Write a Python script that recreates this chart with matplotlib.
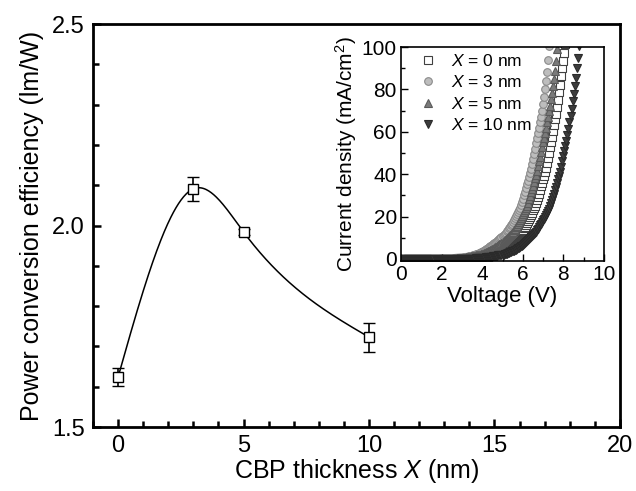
import numpy as np
import matplotlib
matplotlib.use('Agg')
import matplotlib.pyplot as plt
from matplotlib.ticker import MultipleLocator

plt.rcParams['font.family'] = ['Liberation Sans', 'DejaVu Sans']
plt.rcParams['mathtext.fontset'] = 'custom'
plt.rcParams['mathtext.rm'] = 'Liberation Sans'
plt.rcParams['mathtext.it'] = 'Liberation Sans:italic'

# Main plot: power efficiency vs CBP thickness
thickness = [0, 3, 5, 10]
efficiency = [1.624, 2.091, 1.984, 1.723]
eff_err = [0.022, 0.030, 0.008, 0.036]

# Inset: J-V curves, voltage sweep step of 0.05 V starting at 0 V
volt_step = 0.05
j_0nm = [0, 0, 0, 0, 0, 0, 0, 0, 0, 0,
         0, 0, 0, 0, 0, 0, 0, 0, 0, 0,
         0, 0, 0, 0, 0, 0, 0, 0, 0, 0,
         0, 0, 0, 0, 0, 0, 0, 0, 0, 0,
         0, 0, 0, 0, 0, 0, 0, 0, 0, 0,
         0.0, 0.05, 0.1, 0.1, 0.15, 0.15, 0.2, 0.2, 0.25, 0.25,
         0.3, 0.35, 0.4, 0.45, 0.5, 0.55, 0.6, 0.7, 0.8, 0.85,
         0.9, 1.0, 1.1, 1.2, 1.3, 1.4, 1.5, 1.55, 1.6, 1.7,
         1.85, 1.95, 2.1, 2.25, 2.4, 2.55, 2.7, 2.9, 3.1, 3.3,
         3.5, 3.7, 3.9, 4.1, 4.4, 4.7, 5.0, 5.2, 5.4, 5.6,
         5.8, 6.1, 6.4, 6.7, 7.0, 7.4, 7.8, 8.2, 8.6, 9.0,
         9.4, 9.8, 10.2, 10.6, 11.0, 11.4, 11.8, 12.2, 12.7, 13.2,
         13.8, 14.5, 15.2, 16.0, 16.8, 17.7, 18.6, 19.6, 20.7, 21.8,
         22.9, 24.0, 25.0, 26.3, 27.7, 29.2, 30.8, 32.5, 34.2, 35.9,
         37.6, 39.2, 40.8, 43.0, 45.4, 47.8, 50.2, 52.6, 55.0, 57.7,
         60.4, 63.1, 65.8, 68.6, 71.5, 75.0, 78.6, 82.3, 86.2, 90.0,
         93.5, 97.4, 101.5, 106.0]
j_3nm = [0, 0, 0, 0, 0, 0, 0, 0, 0, 0,
         0, 0, 0, 0, 0, 0, 0, 0, 0, 0,
         0, 0, 0, 0, 0, 0, 0, 0, 0, 0,
         0, 0, 0, 0, 0, 0, 0, 0, 0, 0,
         0, 0, 0, 0, 0, 0, 0, 0, 0, 0,
         0.1, 0.15, 0.2, 0.2, 0.2, 0.25, 0.3, 0.35, 0.4, 0.45,
         0.5, 0.6, 0.7, 0.8, 0.9, 1.0, 1.1, 1.2, 1.3, 1.45,
         1.6, 1.7, 1.8, 1.95, 2.1, 2.3, 2.5, 2.7, 2.9, 3.15,
         3.4, 3.65, 3.9, 4.2, 4.5, 4.8, 5.1, 5.5, 5.9, 6.25,
         6.6, 6.95, 7.3, 7.7, 8.1, 8.5, 8.9, 9.35, 9.8, 10.3,
         10.8, 11.3, 11.8, 12.4, 13.0, 13.7, 14.4, 15.1, 15.9, 16.7,
         17.5, 18.3, 19.2, 20.1, 21.0, 22.0, 23.0, 24.2, 25.5, 27.0,
         28.5, 30.1, 31.8, 33.5, 35.2, 36.9, 38.7, 40.6, 42.6, 44.8,
         47.0, 49.5, 52.0, 54.5, 57.0, 59.5, 62.0, 64.5, 67.0, 70.0,
         73.0, 76.5, 80.0, 84.0, 88.0, 94.0, 100.5, 106.0]
j_5nm = [0, 0, 0, 0, 0, 0, 0, 0, 0, 0,
         0, 0, 0, 0, 0, 0, 0, 0, 0, 0,
         0, 0, 0, 0, 0, 0, 0, 0, 0, 0,
         0, 0, 0, 0, 0, 0, 0, 0, 0, 0,
         0, 0, 0, 0, 0, 0, 0, 0, 0, 0,
         0.05, 0.1, 0.1, 0.15, 0.15, 0.2, 0.25, 0.3, 0.35, 0.4,
         0.45, 0.5, 0.55, 0.6, 0.7, 0.8, 0.9, 1.0, 1.1, 1.2,
         1.3, 1.4, 1.5, 1.6, 1.7, 1.8, 1.85, 1.9, 2.0, 2.15,
         2.3, 2.5, 2.7, 2.9, 3.1, 3.3, 3.5, 3.75, 4.0, 4.25,
         4.5, 4.8, 5.1, 5.4, 5.75, 6.1, 6.45, 6.8, 7.2, 7.6,
         8.0, 8.4, 8.8, 9.3, 9.8, 10.3, 10.8, 11.3, 11.8, 12.3,
         12.9, 13.6, 14.3, 15.0, 15.7, 16.5, 17.3, 18.2, 19.1, 20.1,
         21.1, 22.1, 23.1, 24.1, 25.0, 26.6, 28.2, 29.8, 31.4, 33.0,
         34.6, 36.3, 38.0, 39.7, 41.5, 43.7, 46.0, 48.3, 50.6, 52.9,
         55.0, 57.0, 59.3, 62.0, 64.6, 67.2, 69.8, 72.2, 75.3, 78.5,
         81.7, 85.0, 88.5, 93.5, 99.0, 104.5]
j_10nm = [0, 0, 0, 0, 0, 0, 0, 0, 0, 0,
          0, 0, 0, 0, 0, 0, 0, 0, 0, 0,
          0, 0, 0, 0, 0, 0, 0, 0, 0, 0,
          0, 0, 0, 0, 0, 0, 0, 0, 0, 0,
          0, 0, 0, 0, 0, 0, 0, 0, 0, 0,
          0, 0, 0, 0, 0, 0, 0, 0, 0, 0,
          0, 0, 0, 0, 0, 0, 0, 0, 0, 0,
          0.05, 0.1, 0.1, 0.15, 0.2, 0.2, 0.25, 0.3, 0.35, 0.4,
          0.45, 0.5, 0.55, 0.6, 0.7, 0.75, 0.8, 0.9, 1.0, 1.05,
          1.1, 1.2, 1.3, 1.4, 1.5, 1.6, 1.7, 1.75, 1.8, 1.85,
          1.9, 2.0, 2.15, 2.3, 2.5, 2.7, 2.9, 3.1, 3.3, 3.5,
          3.7, 3.9, 4.1, 4.4, 4.7, 5.0, 5.3, 5.7, 6.0, 6.3,
          6.7, 7.1, 7.5, 7.9, 8.3, 8.7, 9.2, 9.7, 10.2, 10.7,
          11.2, 11.7, 12.2, 12.9, 13.6, 14.3, 15.0, 15.8, 16.6, 17.4,
          18.2, 19.0, 19.9, 20.8, 21.7, 22.7, 23.7, 24.8, 26.2, 27.7,
          29.2, 30.8, 32.4, 34.1, 35.8, 37.5, 39.2, 41.2, 43.6, 46.0,
          48.4, 50.8, 53.2, 55.6, 58.4, 61.4, 64.4, 67.6, 70.8, 74.3,
          77.8, 81.5, 85.4, 90.0, 95.0, 100.5, 106.0]
series_labels = ['0', '3', '5', '10']


def natural_spline(xk, yk, xs):
    # plain natural cubic spline, used only for the guide line
    xk = np.asarray(xk, float)
    yk = np.asarray(yk, float)
    n = len(xk)
    h = np.diff(xk)
    A = np.zeros((n, n))
    b = np.zeros(n)
    A[0, 0] = 1
    A[-1, -1] = 1
    for i in range(1, n - 1):
        A[i, i - 1] = h[i - 1]
        A[i, i] = 2 * (h[i - 1] + h[i])
        A[i, i + 1] = h[i]
        b[i] = 3 * ((yk[i + 1] - yk[i]) / h[i] - (yk[i] - yk[i - 1]) / h[i - 1])
    c = np.linalg.solve(A, b)
    ys = np.zeros_like(xs)
    for i in range(n - 1):
        m = (xs >= xk[i]) & (xs <= xk[i + 1])
        bb = (yk[i + 1] - yk[i]) / h[i] - h[i] * (2 * c[i] + c[i + 1]) / 3
        d = (c[i + 1] - c[i]) / (3 * h[i])
        t = xs[m] - xk[i]
        ys[m] = yk[i] + bb * t + c[i] * t ** 2 + d * t ** 3
    return ys


fig = plt.figure(figsize=(6.36, 4.91), dpi=100)
ax = fig.add_axes([0.1462, 0.1303, 0.8286, 0.8208])

xs = np.linspace(thickness[0], thickness[-1], 300)
ax.plot(xs, natural_spline(thickness, efficiency, xs), color='black', lw=1.1, zorder=2)
ax.errorbar(thickness, efficiency, yerr=eff_err, fmt='s', ms=7.5, mfc='white', mec='black',
            mew=1.0, ecolor='black', elinewidth=1.2, capsize=4, capthick=1.2, zorder=3)

ax.set_xlim(-1, 20)
ax.set_ylim(1.5, 2.5)
ax.xaxis.set_major_locator(MultipleLocator(5))
ax.xaxis.set_minor_locator(MultipleLocator(1))
ax.yaxis.set_minor_locator(MultipleLocator(0.1))
ax.set_yticks([1.5, 2.0, 2.5])
ax.set_yticklabels(['1.5', '2.0', '2.5'])
ax.tick_params(which='both', direction='in', top=False, right=False, labelsize=17, width=1.8)
ax.tick_params(which='major', length=6, pad=6)
ax.tick_params(which='minor', length=4)
for s in ax.spines.values():
    s.set_linewidth(2.0)
ax.set_xlabel(r'CBP thickness $\mathit{X}$ (nm)', fontsize=18, labelpad=0)
ax.set_ylabel('Power conversion efficiency (lm/W)', fontsize=18, labelpad=6)

# Inset
axi = fig.add_axes([0.6305, 0.4684, 0.3192, 0.4358])
styles = [
    dict(marker='s', ms=5.2, mfc='white', mec='#404040', mew=0.8),
    dict(marker='o', ms=5.5, mfc='#bdbdbd', mec='#8a8a8a', mew=0.8),
    dict(marker='^', ms=6.0, mfc='#7a7a7a', mec='#5a5a5a', mew=0.8),
    dict(marker='v', ms=6.0, mfc='#3c3c3c', mec='#2a2a2a', mew=0.8),
]
for j, lab, st in zip([j_0nm, j_3nm, j_5nm, j_10nm], series_labels, styles):
    v = np.arange(len(j)) * volt_step
    axi.plot(v, j, ls='none', label=r'$\mathit{X}$ = ' + lab + ' nm', **st)

axi.set_xlim(0, 10)
axi.set_ylim(-1, 100)
axi.xaxis.set_major_locator(MultipleLocator(2))
axi.xaxis.set_minor_locator(MultipleLocator(1))
axi.yaxis.set_major_locator(MultipleLocator(20))
axi.yaxis.set_minor_locator(MultipleLocator(10))
axi.tick_params(which='both', direction='in', top=False, right=False, labelsize=15, width=1.0)
axi.tick_params(which='major', length=5, pad=3)
axi.tick_params(which='minor', length=3)
for s in axi.spines.values():
    s.set_linewidth(1.2)
axi.set_xlabel('Voltage (V)', fontsize=16, labelpad=1)
axi.set_ylabel(r'Current density (mA/cm$^2$)', fontsize=15, labelpad=2)
axi.legend(loc='upper left', bbox_to_anchor=(0.04, 1.02), frameon=False, fontsize=12.5,
           handlelength=1.0, handletextpad=0.8, labelspacing=0.3, borderaxespad=0.2)

fig.savefig('out.png', dpi=100)
